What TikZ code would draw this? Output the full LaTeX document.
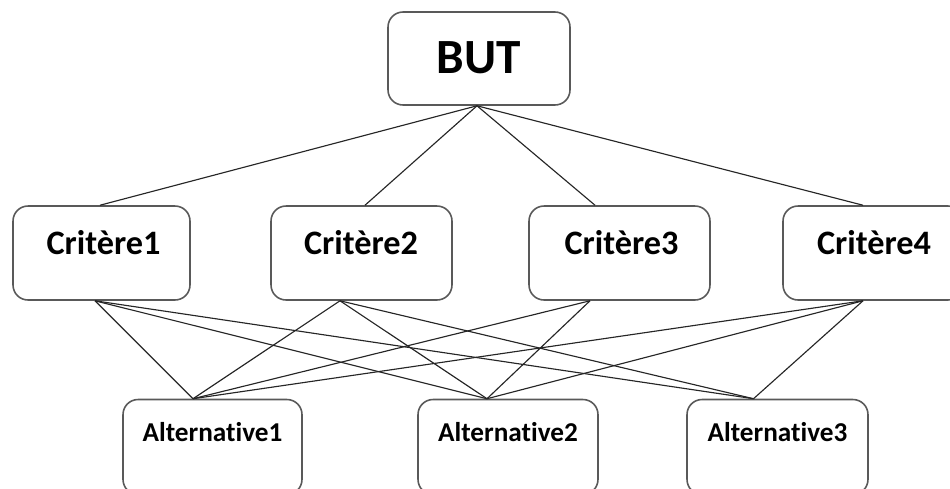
\documentclass[tikz,border=0pt]{standalone}
\usepackage{fontspec}
\setmainfont{Carlito}[Ligatures={NoCommon,NoContextual}]
\usetikzlibrary{calc}
\tikzset{
  box/.style={draw=black!65, line width=0.9pt, rounded corners=0.3cm, fill=white, inner sep=0pt},
  link/.style={draw=black!85, line width=0.65pt},
  lbl/.style={inner sep=0pt, font=\bfseries},
}
\begin{document}
\begin{tikzpicture}[x=0.02cm, y=-0.02cm]
\useasboundingbox (0,0) rectangle (950,488);
\clip (0,0) rectangle (950,488);
% boxes
\node[box, minimum width=3.64cm, minimum height=1.86cm] (but) at (479,58.5) {};
\node[box, minimum width=3.54cm, minimum height=1.88cm] (c1) at (101.5,253) {};
\node[box, minimum width=3.62cm, minimum height=1.88cm] (c2) at (361.5,253) {};
\node[box, minimum width=3.62cm, minimum height=1.88cm] (c3) at (619.5,253) {};
\node[box, minimum width=3.6cm, minimum height=1.88cm] (c4) at (873,253) {};
\node[box, minimum width=3.58cm, minimum height=1.9cm] (a1) at (212.5,447) {};
\node[box, minimum width=3.6cm, minimum height=1.9cm] (a2) at (508,447) {};
\node[box, minimum width=3.62cm, minimum height=1.9cm] (a3) at (777.5,447) {};
% texts
\node[lbl, font=\bfseries\fontsize{28}{30}\selectfont] (tbut) at (479,58) {BUT};
\node[lbl, font=\bfseries\fontsize{19.5}{21}\selectfont] (tc1) at (103.5,243) {Critère1};
\node[lbl, font=\bfseries\fontsize{19.5}{21}\selectfont] (tc2) at (361,243) {Critère2};
\node[lbl, font=\bfseries\fontsize{19.5}{21}\selectfont] (tc3) at (621.5,243) {Critère3};
\node[lbl, font=\bfseries\fontsize{19.5}{21}\selectfont] (tc4) at (874,243) {Critère4};
\node[lbl, font=\bfseries\fontsize{15.5}{17}\selectfont] (ta1) at (212.5,432) {Alternative1};
\node[lbl, font=\bfseries\fontsize{15.5}{17}\selectfont] (ta2) at (508,432) {Alternative2};
\node[lbl, font=\bfseries\fontsize{15.5}{17}\selectfont] (ta3) at (777.5,432) {Alternative3};
% anchor points
\coordinate (bb) at ($(but.south)+(-2,0)$);
\coordinate (c1t) at ($(c1.north)+(-1.5,0)$);
\coordinate (c2t) at ($(c2.north)+(3.5,0)$);
\coordinate (c3t) at ($(c3.north)+(-24.5,0)$);
\coordinate (c4t) at ($(c4.north)+(-10,0)$);
\coordinate (c1b) at ($(c1.south)+(-6.5,0)$);
\coordinate (c2b) at ($(c2.south)+(-21.5,0)$);
\coordinate (c3b) at ($(c3.south)+(-29.5,0)$);
\coordinate (c4b) at ($(c4.south)+(-10,0)$);
\coordinate (a1t) at ($(a1.north)+(-19.5,0)$);
\coordinate (a2t) at ($(a2.north)+(-21,0)$);
\coordinate (a3t) at ($(a3.north)+(-24,0)$);
% connectors
\draw[link] (bb) -- (c1t);
\draw[link] (bb) -- (c2t);
\draw[link] (bb) -- (c3t);
\draw[link] (bb) -- (c4t);
\draw[link] (c1b) -- (a1t);
\draw[link] (c1b) -- (a2t);
\draw[link] (c1b) -- (a3t);
\draw[link] (c2b) -- (a1t);
\draw[link] (c2b) -- (a2t);
\draw[link] (c2b) -- (a3t);
\draw[link] (c3b) -- (a1t);
\draw[link] (c3b) -- (a2t);
\draw[link] (c4b) -- (a1t);
\draw[link] (c4b) -- (a2t);
\draw[link] (c4b) -- (a3t);
\end{tikzpicture}
\end{document}
